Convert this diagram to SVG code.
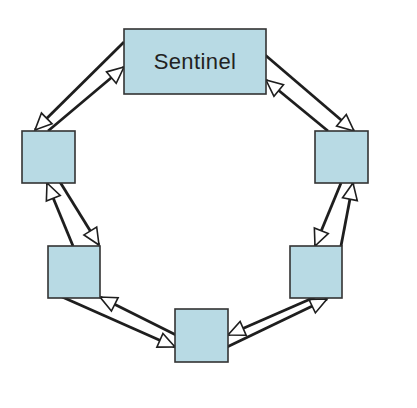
<svg xmlns="http://www.w3.org/2000/svg" width="417" height="408" viewBox="0 0 417 408">
<style>
.node{fill:#b8dae4;stroke:#333;stroke-width:1.6}
.link{stroke:#1e1e1e;stroke-width:2.8;fill:none;marker-end:url(#ah)}
.lbl{font-family:"Liberation Sans",Arial,sans-serif;font-size:22px;fill:#222;text-anchor:middle}
</style>
<defs>
<marker id="ah" markerUnits="userSpaceOnUse" markerWidth="20" markerHeight="18" refX="17" refY="8" orient="auto" overflow="visible">
<path d="M0.5,0.5 L17,8 L0.5,15.5 Z" fill="#fff" stroke="#1e1e1e" stroke-width="1.6" stroke-linejoin="miter"/>
</marker>
</defs>
<rect width="417" height="408" fill="#fff"/>
<g id="connectors">
<line class="link" x1="124" y1="42" x2="35" y2="130"/>
<line class="link" x1="48" y1="131" x2="124" y2="67"/>
<line class="link" x1="264" y1="54" x2="354" y2="131"/>
<line class="link" x1="328" y1="131" x2="266" y2="80"/>
<line class="link" x1="73" y1="246" x2="47" y2="183"/>
<line class="link" x1="60" y1="182" x2="99" y2="245"/>
<line class="link" x1="341" y1="183" x2="315" y2="246"/>
<line class="link" x1="341" y1="246" x2="353" y2="183"/>
<line class="link" x1="60" y1="296" x2="175" y2="347"/>
<line class="link" x1="176" y1="335" x2="100" y2="297"/>
<line class="link" x1="227" y1="347" x2="327" y2="299"/>
<line class="link" x1="315" y1="297" x2="228" y2="335"/>
</g>
<g id="sentinel">
<rect class="node" x="124" y="29" width="142" height="65"/>
<text class="lbl" x="195" y="69" letter-spacing="0.4">Sentinel</text>
</g>
<g id="node-top-left"><rect class="node" x="22" y="131" width="53" height="52"/></g>
<g id="node-top-right"><rect class="node" x="315" y="131" width="53" height="52"/></g>
<g id="node-lower-left"><rect class="node" x="48" y="246" width="52" height="52"/></g>
<g id="node-lower-right"><rect class="node" x="290" y="246" width="52" height="52"/></g>
<g id="node-bottom"><rect class="node" x="175" y="309" width="53" height="53"/></g>
</svg>
